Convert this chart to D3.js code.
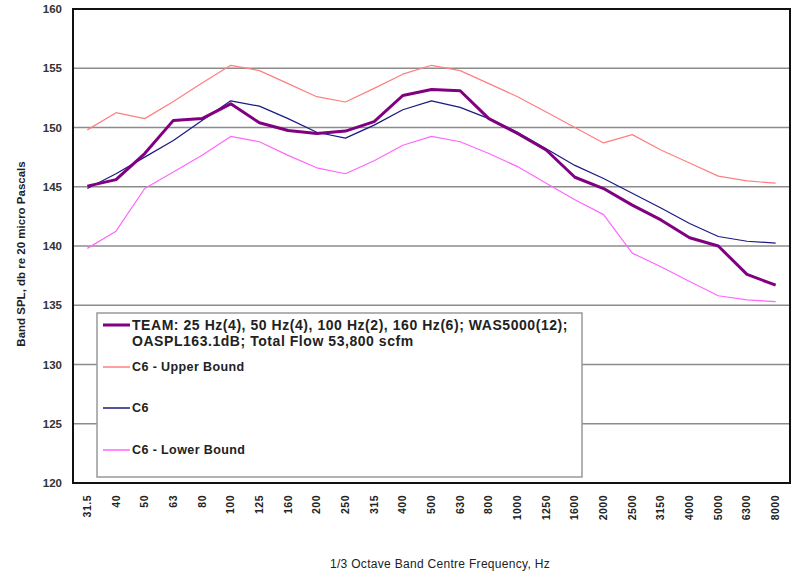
<!DOCTYPE html>
<html lang="en">
<head>
<meta charset="utf-8">
<script src="https://d3js.org/d3.v7.min.js"></script>
<style>
  body { margin: 0; background: #fff; }
  svg { font-family: "Liberation Sans", Arial, sans-serif; }
</style>
</head>
<body>
<div id="chart"></div>
<script>
// 1/3 octave band centre frequencies
var bands = ["31.5", "40", "50", "63", "80", "100", "125", "160", "200", "250", "315", "400",
             "500", "630", "800", "1000", "1250", "1600", "2000", "2500", "3150", "4000", "5000", "6300", "8000"];

var team = [145.05, 145.6, 147.8, 150.6, 150.75, 152.0, 150.4, 149.75, 149.5, 149.7, 150.5, 152.7,
            153.2, 153.1, 150.75, 149.5, 148.1, 145.8, 144.85, 143.45, 142.2, 140.7, 140.0, 137.6, 136.7];
var c6Upper = [149.8, 151.25, 150.75, 152.2, 153.75, 155.25, 154.8, 153.7, 152.6, 152.15, 153.3, 154.5,
               155.25, 154.8, 153.7, 152.6, 151.3, 150.0, 148.7, 149.4, 148.1, 147.0, 145.9, 145.5, 145.3];
var c6 = [144.85, 146.1, 147.5, 148.9, 150.6, 152.25, 151.8, 150.75, 149.6, 149.1, 150.2, 151.5,
          152.25, 151.7, 150.75, 149.6, 148.2, 146.8, 145.7, 144.45, 143.2, 141.9, 140.8, 140.4, 140.25];
var c6Lower = [139.8, 141.25, 144.85, 146.25, 147.65, 149.25, 148.8, 147.65, 146.6, 146.1, 147.2, 148.5,
               149.25, 148.8, 147.8, 146.7, 145.3, 143.9, 142.65, 139.4, 138.25, 137.0, 135.8, 135.45, 135.3];

var yTicks = [120, 125, 130, 135, 140, 145, 150, 155, 160];

var series = [
  { name: ["TEAM: 25 Hz(4), 50 Hz(4), 100 Hz(2), 160 Hz(6); WAS5000(12);", "OASPL163.1dB; Total Flow 53,800 scfm"],
    values: team, color: "#800080", width: 3 },
  { name: ["C6 - Upper Bound"], values: c6Upper, color: "#ff7f7f", width: 1.2 },
  { name: ["C6"], values: c6, color: "#1a1a80", width: 1.2 },
  { name: ["C6 - Lower Bound"], values: c6Lower, color: "#ff66ff", width: 1.2 }
];

var W = 792, H = 575;
var plot = { left: 73, top: 9, right: 790, bottom: 483 };

var svg = d3.select("#chart").append("svg")
    .attr("width", W)
    .attr("height", H);

var x = d3.scaleBand()
    .domain(bands)
    .range([plot.left, plot.right]);

var y = d3.scaleLinear()
    .domain([120, 160])
    .range([plot.bottom, plot.top]);

// gridlines
svg.append("g")
  .selectAll("line")
  .data(yTicks.filter(function(d) { return d > 120 && d < 160; }))
  .enter().append("line")
    .attr("x1", plot.left)
    .attr("x2", plot.right)
    .attr("y1", function(d) { return y(d); })
    .attr("y2", function(d) { return y(d); })
    .attr("stroke", "#8c8c8c")
    .attr("stroke-width", 1.5);

// y tick labels
svg.append("g")
  .selectAll("text")
  .data(yTicks)
  .enter().append("text")
    .attr("x", 62)
    .attr("y", function(d) { return y(d); })
    .attr("dy", "0.35em")
    .attr("text-anchor", "end")
    .style("font-size", "11.5px")
    .style("font-weight", "bold")
    .style("fill", "#333")
    .text(function(d) { return d; });

// x tick labels (rotated)
svg.append("g")
  .selectAll("text")
  .data(bands)
  .enter().append("text")
    .attr("transform", function(d) {
      return "translate(" + (x(d) + x.bandwidth() / 2 + 3.5) + ",495) rotate(-90)";
    })
    .attr("text-anchor", "end")
    .style("font-size", "10.5px")
    .style("font-weight", "bold")
    .style("letter-spacing", "0.5px")
    .style("fill", "#222")
    .text(function(d) { return d; });

// lines
var line = d3.line()
    .x(function(d, i) { return x(bands[i]) + x.bandwidth() / 2; })
    .y(function(d) { return y(d); });

// draw bottom to top: upper, lower, c6, team
[1, 3, 2, 0].forEach(function(k) {
  var s = series[k];
  svg.append("path")
    .datum(s.values)
    .attr("d", line)
    .attr("fill", "none")
    .attr("stroke", s.color)
    .attr("stroke-width", s.width)
    .attr("stroke-linejoin", "round");
});

// plot border
svg.append("rect")
    .attr("x", plot.left)
    .attr("y", plot.top)
    .attr("width", plot.right - plot.left)
    .attr("height", plot.bottom - plot.top)
    .attr("fill", "none")
    .attr("stroke", "#111")
    .attr("stroke-width", 2);

// legend
var legend = svg.append("g").attr("transform", "translate(97,313)");
legend.append("rect")
    .attr("width", 485)
    .attr("height", 164)
    .attr("fill", "#fff")
    .attr("stroke", "#999")
    .attr("stroke-width", 1.5);

var legendY = [12, 54, 95, 137];
series.forEach(function(s, i) {
  var g = legend.append("g").attr("transform", "translate(0," + legendY[i] + ")");
  g.append("line")
    .attr("x1", 6).attr("x2", 33)
    .attr("y1", 0).attr("y2", 0)
    .attr("stroke", s.color)
    .attr("stroke-width", i === 0 ? 3 : 1.5);
  s.name.forEach(function(t, j) {
    g.append("text")
      .attr("x", 35)
      .attr("y", j * 16.5)
      .attr("dy", "0.35em")
      .style("font-size", i === 0 ? "14px" : "12.5px")
      .style("letter-spacing", i === 0 ? "0.55px" : "0.4px")
      .style("font-weight", "bold")
      .style("fill", "#222")
      .text(t);
  });
});

// axis titles
svg.append("text")
    .attr("transform", "translate(25,254) rotate(-90)")
    .attr("text-anchor", "middle")
    .style("font-size", "11.5px")
    .style("font-weight", "bold")
    .style("fill", "#222")
    .text("Band SPL, db re 20 micro Pascals");

svg.append("text")
    .attr("x", 440)
    .attr("y", 568)
    .attr("text-anchor", "middle")
    .style("font-size", "12px")
    .style("letter-spacing", "0.3px")
    .style("fill", "#222")
    .text("1/3 Octave  Band  Centre  Frequency,  Hz");
</script>
</body>
</html>
